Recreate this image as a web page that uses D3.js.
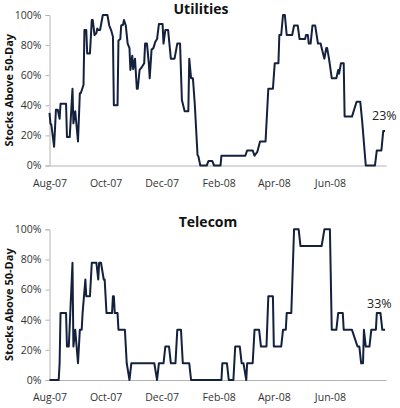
<!DOCTYPE html>
<html>
<head>
<meta charset="utf-8">
<script src="https://cdn.jsdelivr.net/npm/d3@7"></script>
<style>
  body { margin: 0; background: #fff; }
  svg { display: block; }
</style>
</head>
<body>
<script>
// Percent of stocks above their 50-day moving average
var utilities = [
  ["2007-08-01", 35], ["2007-08-02", 28], ["2007-08-03", 27], ["2007-08-06", 12.5],
  ["2007-08-08", 37], ["2007-08-10", 37], ["2007-08-12", 31], ["2007-08-13", 41],
  ["2007-08-19", 41], ["2007-08-20", 19], ["2007-08-23", 19], ["2007-08-26", 51],
  ["2007-08-27", 28], ["2007-08-29", 36], ["2007-09-01", 16], ["2007-09-03", 48],
  ["2007-09-04", 48], ["2007-09-07", 53.5], ["2007-09-08", 90], ["2007-09-10", 90],
  ["2007-09-11", 74.5], ["2007-09-14", 74.5], ["2007-09-16", 96.7], ["2007-09-17", 96.7],
  ["2007-09-19", 86.7], ["2007-09-21", 88], ["2007-09-22", 91], ["2007-09-23", 90],
  ["2007-09-25", 90], ["2007-09-28", 100], ["2007-10-03", 100], ["2007-10-05", 93],
  ["2007-10-07", 90], ["2007-10-09", 85.6], ["2007-10-10", 40], ["2007-10-14", 40],
  ["2007-10-15", 83], ["2007-10-17", 84], ["2007-10-18", 93], ["2007-10-20", 93.5],
  ["2007-10-21", 96.7], ["2007-10-23", 93], ["2007-10-25", 81], ["2007-10-27", 78],
  ["2007-10-28", 63.5], ["2007-10-30", 73], ["2007-10-31", 64], ["2007-11-02", 71],
  ["2007-11-04", 51], ["2007-11-05", 51], ["2007-11-07", 63.5], ["2007-11-09", 65],
  ["2007-11-12", 68], ["2007-11-13", 81], ["2007-11-15", 81], ["2007-11-17", 68],
  ["2007-11-18", 58], ["2007-11-20", 77], ["2007-11-22", 78], ["2007-11-24", 82],
  ["2007-11-26", 84], ["2007-11-28", 94], ["2007-12-02", 94], ["2007-12-03", 81],
  ["2007-12-05", 90], ["2007-12-08", 90], ["2007-12-11", 71], ["2007-12-15", 71],
  ["2007-12-18", 81], ["2007-12-21", 81], ["2007-12-23", 43.5], ["2007-12-26", 36],
  ["2007-12-30", 36], ["2007-12-31", 71], ["2008-01-02", 58], ["2008-01-04", 58],
  ["2008-01-06", 41], ["2008-01-09", 7], ["2008-01-10", 6], ["2008-01-12", 0],
  ["2008-01-19", 0], ["2008-01-21", 3], ["2008-01-25", 3], ["2008-01-27", 0],
  ["2008-02-03", 0], ["2008-02-04", 6.5], ["2008-03-01", 6.5], ["2008-03-03", 10],
  ["2008-03-09", 10], ["2008-03-11", 6.5], ["2008-03-14", 9], ["2008-03-17", 16],
  ["2008-03-23", 16], ["2008-03-26", 51], ["2008-03-31", 51], ["2008-04-02", 68],
  ["2008-04-06", 68], ["2008-04-07", 86.7], ["2008-04-09", 86.7], ["2008-04-11", 100],
  ["2008-04-13", 100], ["2008-04-15", 86.7], ["2008-04-21", 86.7], ["2008-04-23", 93],
  ["2008-04-27", 93], ["2008-04-29", 84], ["2008-05-05", 84], ["2008-05-06", 86.7],
  ["2008-05-08", 86.7], ["2008-05-09", 81], ["2008-05-11", 81], ["2008-05-13", 93],
  ["2008-05-16", 93], ["2008-05-19", 81], ["2008-05-22", 81], ["2008-05-23", 78],
  ["2008-05-26", 71], ["2008-05-28", 78], ["2008-05-29", 78], ["2008-05-31", 71],
  ["2008-06-03", 58], ["2008-06-08", 58], ["2008-06-10", 63.5], ["2008-06-11", 61],
  ["2008-06-13", 68], ["2008-06-16", 68], ["2008-06-17", 32.5], ["2008-06-25", 32.5],
  ["2008-06-30", 42.4], ["2008-07-04", 42.4], ["2008-07-06", 30], ["2008-07-10", 0],
  ["2008-07-20", 0], ["2008-07-22", 10], ["2008-07-27", 10], ["2008-07-29", 23],
  ["2008-07-31", 23]
];

var telecom = [
  ["2007-08-01", 0], ["2007-08-11", 0], ["2007-08-12", 11.1], ["2007-08-13", 44.4],
  ["2007-08-19", 44.4], ["2007-08-20", 22.2], ["2007-08-22", 22.2], ["2007-08-26", 77.8],
  ["2007-08-27", 22.2], ["2007-08-29", 33.3], ["2007-09-01", 11.1], ["2007-09-03", 33.3],
  ["2007-09-05", 33.3], ["2007-09-06", 44.4], ["2007-09-09", 66.7], ["2007-09-10", 55.6],
  ["2007-09-14", 55.6], ["2007-09-16", 77.8], ["2007-09-21", 77.8], ["2007-09-23", 66.7],
  ["2007-09-24", 77.8], ["2007-09-26", 77.8], ["2007-09-29", 66.7], ["2007-09-30", 66.7],
  ["2007-10-02", 44.4], ["2007-10-08", 44.4], ["2007-10-09", 55.6], ["2007-10-10", 55.6],
  ["2007-10-11", 44.4], ["2007-10-14", 44.4], ["2007-10-15", 33.3], ["2007-10-22", 33.3],
  ["2007-10-24", 11.1], ["2007-10-27", 0], ["2007-10-29", 11.1], ["2007-11-23", 11.1],
  ["2007-11-26", 0], ["2007-11-28", 11.1], ["2007-12-03", 11.1], ["2007-12-05", 22.2],
  ["2007-12-09", 22.2], ["2007-12-11", 11.1], ["2007-12-16", 11.1], ["2007-12-18", 33.3],
  ["2007-12-22", 33.3], ["2007-12-24", 11.1], ["2007-12-31", 11.1], ["2008-01-02", 0],
  ["2008-02-04", 0], ["2008-02-05", 11.1], ["2008-02-10", 11.1], ["2008-02-12", 0],
  ["2008-02-17", 0], ["2008-02-19", 22.2], ["2008-02-24", 22.2], ["2008-02-26", 11.1],
  ["2008-02-28", 11.1], ["2008-03-02", 0], ["2008-03-03", 11.1], ["2008-03-09", 11.1],
  ["2008-03-11", 33.3], ["2008-03-16", 33.3], ["2008-03-18", 22.2], ["2008-03-24", 22.2],
  ["2008-03-26", 55.6], ["2008-03-31", 55.6], ["2008-04-01", 22.2], ["2008-04-09", 22.2],
  ["2008-04-11", 33.3], ["2008-04-14", 33.3], ["2008-04-15", 44.4], ["2008-04-20", 44.4],
  ["2008-04-23", 100], ["2008-04-28", 100], ["2008-04-30", 88.9], ["2008-05-23", 88.9],
  ["2008-05-26", 100], ["2008-06-01", 100], ["2008-06-03", 33.3], ["2008-06-08", 33.3],
  ["2008-06-10", 44.4], ["2008-06-15", 44.4], ["2008-06-16", 33.3], ["2008-06-25", 33.3],
  ["2008-07-01", 22.2], ["2008-07-03", 22.2], ["2008-07-05", 11.1], ["2008-07-07", 11.1],
  ["2008-07-08", 33.3], ["2008-07-10", 22.2], ["2008-07-14", 22.2], ["2008-07-16", 33.3],
  ["2008-07-21", 33.3], ["2008-07-22", 44.4], ["2008-07-26", 44.4], ["2008-07-28", 33.3],
  ["2008-07-31", 33.3]
];

var tickMonths = ["2007-08-01", "2007-10-01", "2007-12-01", "2008-02-01", "2008-04-01", "2008-06-01"];
var yTicks = [0, 20, 40, 60, 80, 100];
var titles = ["Utilities", "Telecom"];
var endLabels = ["23%", "33%"];
var yAxisTitle = "Stocks Above 50-Day";

var width = 400, height = 408;
var parse = d3.timeParse("%Y-%m-%d");
var lineColor = "#14213d";
var axisColor = "#b4b4b4";
var font = "'Open Sans', 'DejaVu Sans', sans-serif";

var svg = d3.select("body").append("svg")
    .attr("width", width)
    .attr("height", height)
    .style("background", "#fff");

// shared time scale (Aug-07 .. Aug-08)
var x = d3.scaleTime()
    .domain([parse("2007-08-01"), parse("2008-08-01")])
    .range([49.5, 386]);

// panel layouts
var panels = [
  { data: utilities, title: titles[0], label: endLabels[0], top: 15, bottom: 165.5,
    titleX: 201, titleY: 13.5, labelX: 372, labelY: 119.5 },
  { data: telecom, title: titles[1], label: endLabels[1], top: 229.3, bottom: 380,
    titleX: 208, titleY: 226.5, labelX: 367, labelY: 308 }
];

panels.forEach(function(p) {
  var y = d3.scaleLinear().domain([0, 100]).range([p.bottom, p.top]);
  var g = svg.append("g");

  // y axis
  var yAxis = g.append("g")
      .attr("transform", "translate(" + x.range()[0] + ",0)")
      .call(d3.axisLeft(y).tickValues(yTicks).tickSize(4).tickPadding(4)
            .tickFormat(function(d) { return d + "%"; }));
  yAxis.select(".domain").attr("stroke", axisColor);
  yAxis.selectAll(".tick line").attr("stroke", axisColor);
  yAxis.selectAll("text")
      .attr("fill", "#333")
      .style("font-family", font)
      .style("font-size", "10.5px");

  // x axis
  var xAxis = g.append("g")
      .attr("transform", "translate(0," + p.bottom + ")")
      .call(d3.axisBottom(x).tickValues(tickMonths.map(parse)).tickSize(0).tickPadding(14)
            .tickFormat(d3.timeFormat("%b-%y")));
  xAxis.select(".domain").attr("stroke", axisColor).attr("stroke-width", 1.2);
  xAxis.selectAll("text")
      .attr("fill", "#333")
      .style("font-family", font)
      .style("font-size", "10.5px");

  // y axis title
  g.append("text")
      .attr("transform", "translate(13," + ((p.top + p.bottom) / 2) + ") rotate(-90)")
      .attr("text-anchor", "middle")
      .style("font-family", font)
      .style("font-weight", "bold")
      .style("font-size", "11px")
      .attr("fill", "#111")
      .text(yAxisTitle);

  // chart title
  g.append("text")
      .attr("x", p.titleX)
      .attr("y", p.titleY)
      .attr("text-anchor", "middle")
      .style("font-family", font)
      .style("font-weight", "bold")
      .style("font-size", "14px")
      .attr("fill", "#111")
      .text(p.title);

  // the series line
  var line = d3.line()
      .x(function(d) { return x(parse(d[0])); })
      .y(function(d) { return y(d[1]); });

  g.append("path")
      .attr("d", line(p.data))
      .attr("fill", "none")
      .attr("stroke", lineColor)
      .attr("stroke-width", 2)
      .attr("stroke-linejoin", "round");

  // last value label
  g.append("text")
      .attr("x", p.labelX)
      .attr("y", p.labelY)
      .style("font-family", font)
      .style("font-size", "12.5px")
      .attr("fill", "#222")
      .text(p.label);
});
</script>
</body>
</html>
